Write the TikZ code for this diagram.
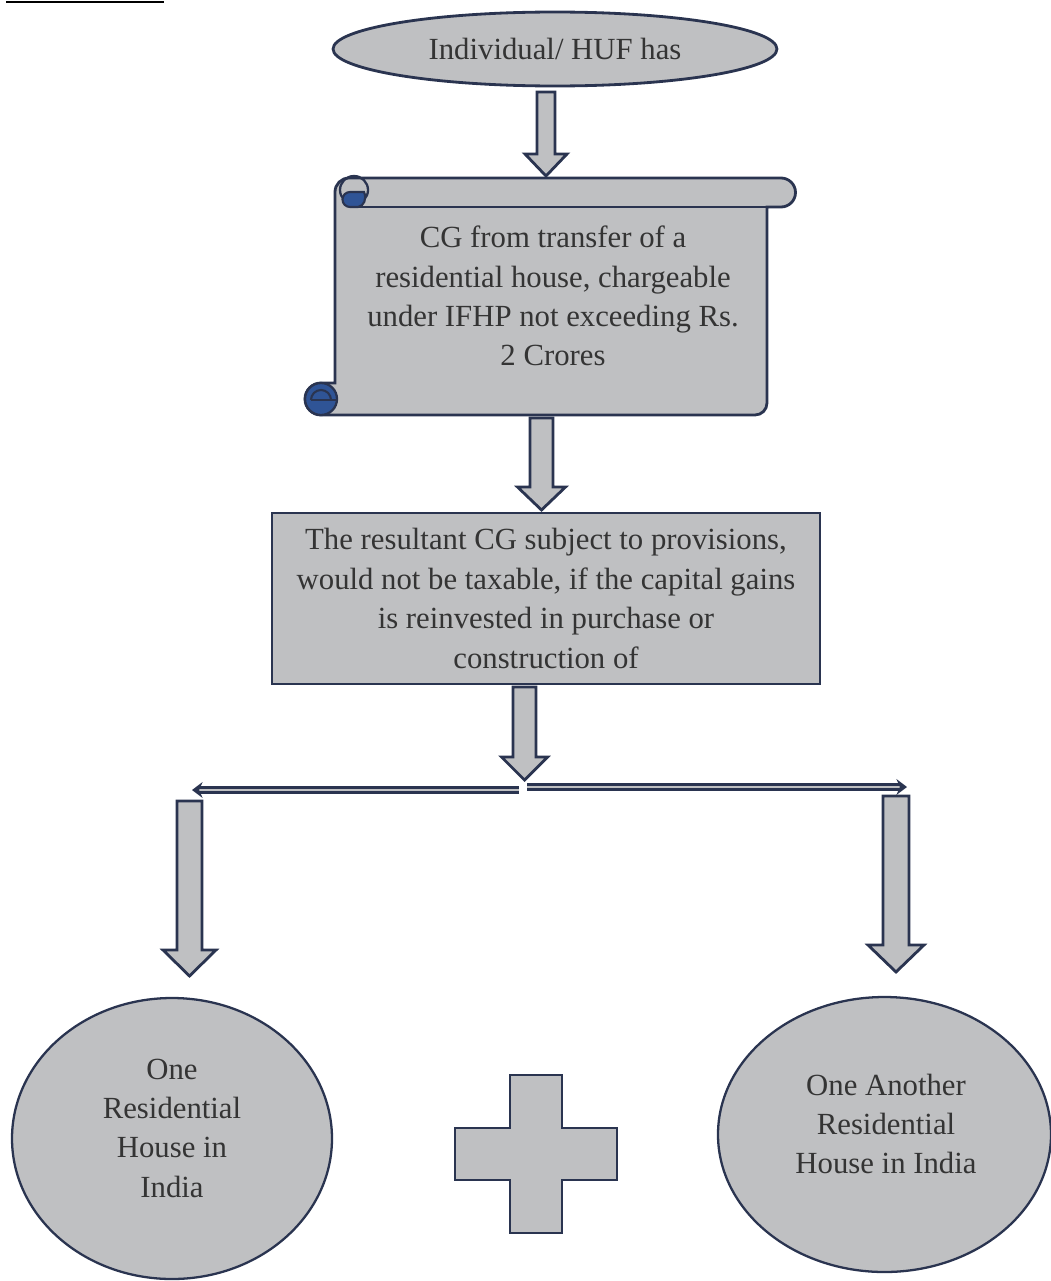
\documentclass[tikz,border=0pt]{standalone}
\usepackage{fontspec}
\setmainfont{Liberation Serif}
\usetikzlibrary{shapes}
\usetikzlibrary{math}
\usetikzlibrary{calc}
\usetikzlibrary{arrows.meta}

\definecolor{boxgray}{RGB}{191,192,194}
\definecolor{edgeblue}{RGB}{42,52,80}
\definecolor{curlblue}{RGB}{47,84,150}
\definecolor{txtgray}{RGB}{52,52,52}

\tikzset{
	shapeline/.style = {draw=edgeblue, fill=boxgray, line width=1.6pt},
	txt/.style = {text=txtgray, align=center, font=\fontsize{17.5}{22.4}\selectfont},
	splitarr/.style = {draw=edgeblue, line width=1.4pt, double=boxgray, double distance=1.5pt, -{Stealth[length=6pt,width=9pt]}},
}

% #1 start, #2 tip, #3 shaft half width, #4 head half width, #5 head length
\newcommand{\blockdown}[5]{%
	\draw[shapeline, line join=miter] ($(#1)+(-#3,0)$) -- ($(#1)+(#3,0)$) -- ($(#2)+(#3,-#5)$) -- ($(#2)+(#4,-#5)$) -- (#2) -- ($(#2)+(-#4,-#5)$) -- ($(#2)+(-#3,-#5)$) -- cycle;}

\begin{document}
\begin{tikzpicture}[x=0.02cm, y=-0.02cm]

	\useasboundingbox (0,0) rectangle (1051,1281);
	\draw[line width=1.2pt] (6,2) -- (164,2);

	\node[shapeline, ellipse, minimum width=8.88cm, minimum height=1.48cm, inner sep=0pt, txt] (hdr) at (555,49) {\raisebox{-3pt}{Individual/ HUF has}};

	% scroll
	\draw[shapeline] (349,178) -- (781,178) arc (270:450:14.5) -- (767,207) -- (767,403) arc (0:90:12) -- (321,415) arc (90:270:16) -- (335,383) -- (335,192) arc (180:270:14) -- cycle;
	\draw[fill=curlblue, draw=edgeblue, line width=1.3pt] (321,399) circle (16);
	\draw[edgeblue, line width=1.2pt] (311,400) -- (336,400);
	\draw[edgeblue, line width=1.2pt] (311,400) arc (180:360:10);
	\draw[edgeblue, line width=1.3pt] (354,190) circle (14);
	\draw[fill=curlblue, draw=edgeblue, line width=1.2pt] (364,192) -- (350,192) arc (270:90:7.5) -- (358,207) .. controls (364,206) and (367,199) .. cycle;
	\draw[edgeblue, line width=1.6pt] (355,207) -- (767,207);
	\node[txt] (cg) at (553,296) {CG from transfer of a\\residential house, chargeable\\under IFHP not exceeding Rs.\\2 Crores};

	\node[shapeline, rectangle, minimum width=10.96cm, minimum height=3.42cm, inner sep=0pt, txt] (cond) at (546,598.5) {The resultant CG subject to provisions,\\would not be taxable, if the capital gains\\is reinvested in purchase or\\construction of};

	\coordinate (a1s) at (546,92);
	\coordinate (a1e) at (546,176);
	\coordinate (a2s) at (541.5,418);
	\coordinate (a2e) at (541.5,510);
	\coordinate (a3s) at (524.5,687);
	\coordinate (a3e) at (524.5,780);
	\blockdown{a1s}{a1e}{9}{21}{22}
	\blockdown{a2s}{a2e}{11.5}{24}{23}
	\blockdown{a3s}{a3e}{11.5}{23}{23}

	\coordinate (spL) at (519,790);
	\coordinate (endL) at (192,790);
	\coordinate (spR) at (527,787);
	\coordinate (endR) at (907,787);
	\draw[splitarr] (spL) -- (endL);
	\draw[splitarr] (spR) -- (endR);

	\coordinate (b1s) at (189.5,801);
	\coordinate (b1e) at (189.5,976);
	\coordinate (b2s) at (896,796);
	\coordinate (b2e) at (896,972);
	\blockdown{b1s}{b1e}{12.5}{26.5}{26}
	\blockdown{b2s}{b2e}{13}{28}{27}

	\draw[shapeline, line width=1.3pt] (172,1138.5) ellipse (160 and 140.5);
	\node[txt] (house1) at (172,1128) {One\\Residential\\House in\\India};
	\draw[shapeline, line width=1.3pt] (884.5,1134.5) ellipse (166.5 and 137.5);
	\node[txt] (house2) at (886,1124) {One Another\\Residential\\House in India};

	\draw[shapeline, line width=1.3pt] (510,1075) -- (562,1075) -- (562,1128) -- (617,1128) -- (617,1180) -- (562,1180) -- (562,1233) -- (510,1233) -- (510,1180) -- (455,1180) -- (455,1128) -- (510,1128) -- cycle;

\end{tikzpicture}
\end{document}
